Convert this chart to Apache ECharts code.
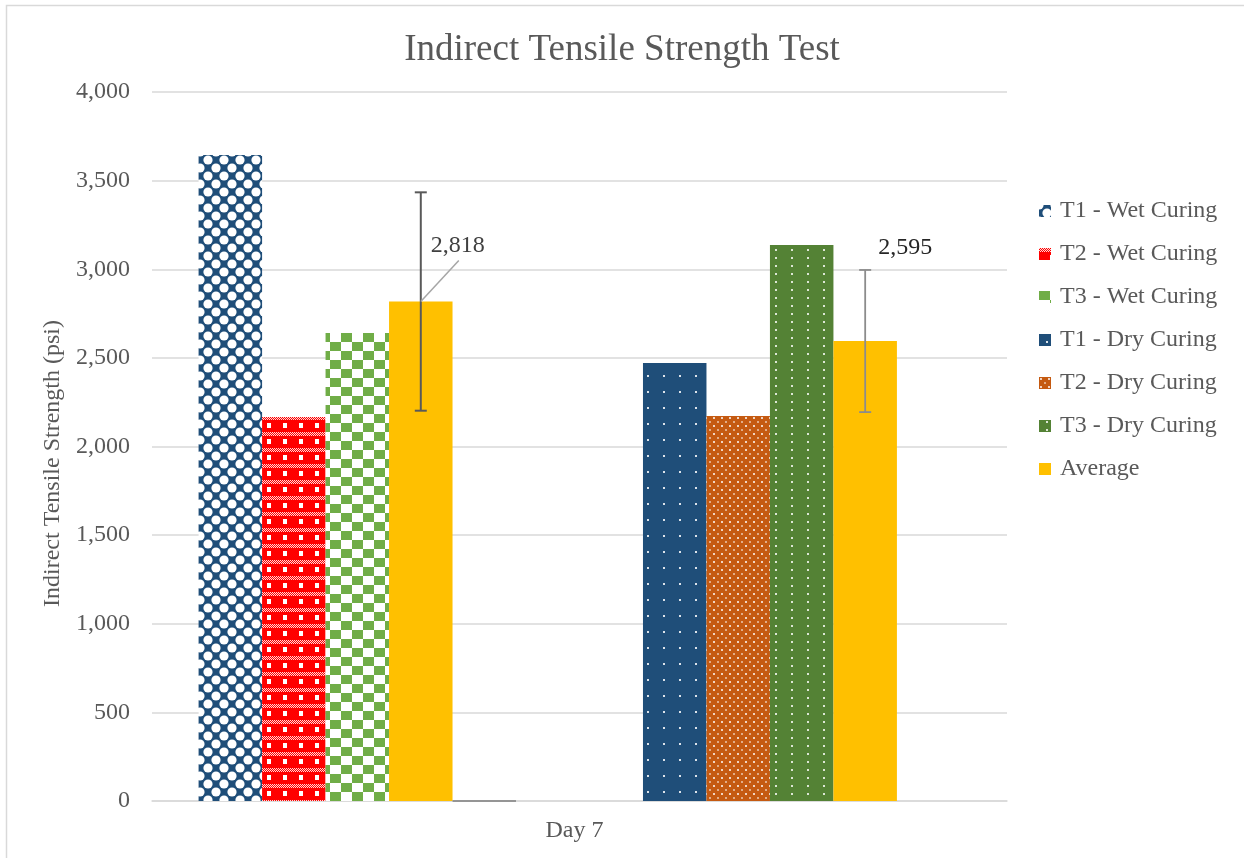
<!DOCTYPE html>
<html>
<head>
<meta charset="utf-8">
<script src="https://cdn.jsdelivr.net/npm/echarts@6/dist/echarts.min.js"></script>
<style>
html,body{margin:0;padding:0;background:#fff;}
#chart{width:1244px;height:858px;}
</style>
</head>
<body>
<div id="chart"></div>
<script>
// ---- data ----
const categories = ['Day 7'];
const legendNames = ['T1 - Wet Curing','T2 - Wet Curing','T3 - Wet Curing','T1 - Dry Curing','T2 - Dry Curing','T3 - Dry Curing','Average'];
const wetValues = [3644, 2166, 2640];     // T1, T2, T3 wet curing
const dryValues = [2471, 2172, 3137];     // T1, T2, T3 dry curing
const averageValues = [2818, 2595];       // wet avg, dry avg
const errorValues = [616, 401];           // +/- error for wet avg, dry avg
const stubValue = [0];
const yTicks = {min: 0, max: 4000, interval: 500};

// slot layout (12 bar slots in the single category)
const SLOTS = 12;
const GAP_RATIO = 0.109;
const FONT = '"Liberation Serif", "Times New Roman", serif';

function tile(w, h, bg, draw) {
  const c = document.createElement('canvas');
  c.width = w; c.height = h;
  const g = c.getContext('2d');
  g.fillStyle = bg; g.fillRect(0, 0, w, h);
  draw(g);
  return {image: c, repeat: 'repeat'};
}
const patT1Wet = tile(16, 16, '#1F4E79', g => {
  g.fillStyle = '#ffffff';
  [[0,0],[16,0],[0,16],[16,16],[8,8]].forEach(p => { g.beginPath(); g.arc(p[0], p[1], 4.6, 0, Math.PI*2); g.fill(); });
});
const patT2Wet = tile(16, 16, '#FF0000', g => {
  g.fillStyle = 'rgba(255,255,255,0.85)';
  for (let y = 0; y < 4; y++) for (let x = 0; x < 16; x++) if ((x + y) % 2 === 0) g.fillRect(x, y, 1, 1);
  g.fillStyle = '#ffffff';
  g.fillRect(11, 7, 4, 5);
});
const patT3Wet = tile(22, 18, '#ffffff', g => {
  g.fillStyle = '#70AD47';
  g.fillRect(0, 0, 11, 9); g.fillRect(11, 9, 11, 9);
});
const patT1Dry = tile(16, 16, '#1F4E79', g => {
  g.fillStyle = 'rgba(255,255,255,0.85)';
  g.fillRect(7, 7, 2, 2);
});
const patT2Dry = tile(8, 8, '#C55A11', g => {
  g.fillStyle = 'rgba(255,255,255,0.75)'; g.fillRect(1, 1, 2, 2);
  g.fillStyle = 'rgba(255,255,255,0.5)'; g.fillRect(5, 5, 2, 2);
});
const patT3Dry = tile(16, 16, '#548235', g => {
  g.fillStyle = 'rgba(255,255,255,0.8)';
  g.fillRect(7, 1, 2, 2); g.fillRect(7, 9, 2, 2);
});
const AVG_COLOR = '#FFC000';

function bar(name, value, color, extra) {
  return Object.assign({
    type: 'bar', name: name, data: [value],
    itemStyle: {color: color},
    barGap: '0%', barCategoryGap: (GAP_RATIO*100) + '%',
    animation: false
  }, extra || {});
}
const fmt = v => Number(v).toLocaleString('en-US');

function avgLabel(dx, dy, color) {
  return {
    label: {show: true, position: 'top', distance: 5, formatter: p => fmt(p.value), fontFamily: FONT, fontSize: 24, color: color},
    labelLayout: {dx: dx, dy: dy},
    labelLine: {show: false}
  };
}

const series = [
  bar(legendNames[0], wetValues[0], patT1Wet),
  bar(legendNames[1], wetValues[1], patT2Wet),
  bar(legendNames[2], wetValues[2], patT3Wet),
  bar('Average', averageValues[0], AVG_COLOR, avgLabel(37, -39, '#404040')),
  bar('stub', stubValue[0], '#7f7f7f', {itemStyle: {color: '#7f7f7f', borderColor: '#7f7f7f', borderWidth: 1.5}}),
  bar('e1', null, 'transparent'),
  bar('e2', null, 'transparent'),
  bar(legendNames[3], dryValues[0], patT1Dry),
  bar(legendNames[4], dryValues[1], patT2Dry),
  bar(legendNames[5], dryValues[2], patT3Dry),
  bar('Average', averageValues[1], AVG_COLOR, avgLabel(40, -76, '#262626')),
  bar('e3', null, 'transparent')
];

function errSeries(slot, avg, err, color, width, leader) {
  return {
    type: 'custom', name: 'err' + slot, z: 5, animation: false, silent: true,
    data: [[0, avg - err, avg + err, slot, avg]],
    renderItem: function (params, api) {
      const lo = api.coord([api.value(0), api.value(1)]);
      const hi = api.coord([api.value(0), api.value(2)]);
      const mid = api.coord([api.value(0), api.value(4)]);
      const band = api.size([1, 0])[0];
      const bw = band * (1 - GAP_RATIO) / SLOTS;
      const x = lo[0] + (api.value(3) - (SLOTS - 1) / 2) * bw;
      const cap = 6;
      const st = {stroke: color, lineWidth: width};
      const kids = [
        {type: 'line', shape: {x1: x, y1: lo[1], x2: x, y2: hi[1]}, style: st},
        {type: 'line', shape: {x1: x - cap, y1: lo[1], x2: x + cap, y2: lo[1]}, style: st},
        {type: 'line', shape: {x1: x - cap, y1: hi[1], x2: x + cap, y2: hi[1]}, style: st}
      ];
      if (leader) {
        kids.push({type: 'line', shape: {x1: x, y1: mid[1], x2: x + leader[0], y2: mid[1] + leader[1]},
          style: {stroke: '#a6a6a6', lineWidth: 1.5}});
      }
      return {type: 'group', children: kids};
    }
  };
}
series.push(errSeries(3, averageValues[0], errorValues[0], '#595959', 2, [38, -41]));
series.push(errSeries(10, averageValues[1], errorValues[1], '#8c8c8c', 1.8, null));

const chart = echarts.init(document.getElementById('chart'), null, {renderer: 'canvas'});
chart.setOption({
  backgroundColor: '#ffffff',
  animation: false,
  textStyle: {fontFamily: FONT},
  title: {
    text: 'Indirect Tensile Strength Test', left: 'center', top: 27,
    textStyle: {fontFamily: FONT, fontSize: 37, fontWeight: 'normal', color: '#595959'}
  },
  graphic: [{
    type: 'rect', shape: {x: 6.5, y: 5.5, width: 1260, height: 880}, silent: true,
    style: {fill: 'none', stroke: '#d9d9d9', lineWidth: 1.5}
  }],
  legend: {
    data: legendNames, orient: 'vertical', left: 1034, top: 194,
    itemWidth: 12, itemHeight: 12, itemGap: 19, icon: 'rect',
    textStyle: {fontFamily: FONT, fontSize: 24, color: '#595959', lineHeight: 24, padding: [0, 0, 0, 4]}
  },
  grid: {left: 152, right: 237, top: 92, bottom: 57, containLabel: false},
  xAxis: {
    type: 'category', data: categories,
    axisLine: {lineStyle: {color: '#d9d9d9', width: 1.5}},
    axisTick: {show: false},
    axisLabel: {fontFamily: FONT, fontSize: 24, color: '#595959', margin: 18, padding: [0, 10, 0, 0]}
  },
  yAxis: {
    type: 'value', min: yTicks.min, max: yTicks.max, interval: yTicks.interval,
    name: 'Indirect Tensile Strength (psi)', nameLocation: 'middle', nameGap: 79,
    nameTextStyle: {fontFamily: FONT, fontSize: 24, color: '#595959', padding: [0, 34, 0, 0]},
    axisLine: {show: false}, axisTick: {show: false},
    axisLabel: {fontFamily: FONT, fontSize: 24, color: '#595959', margin: 22},
    splitLine: {lineStyle: {color: '#d9d9d9', width: 1.5}}
  },
  series: series
});
</script>
</body>
</html>
